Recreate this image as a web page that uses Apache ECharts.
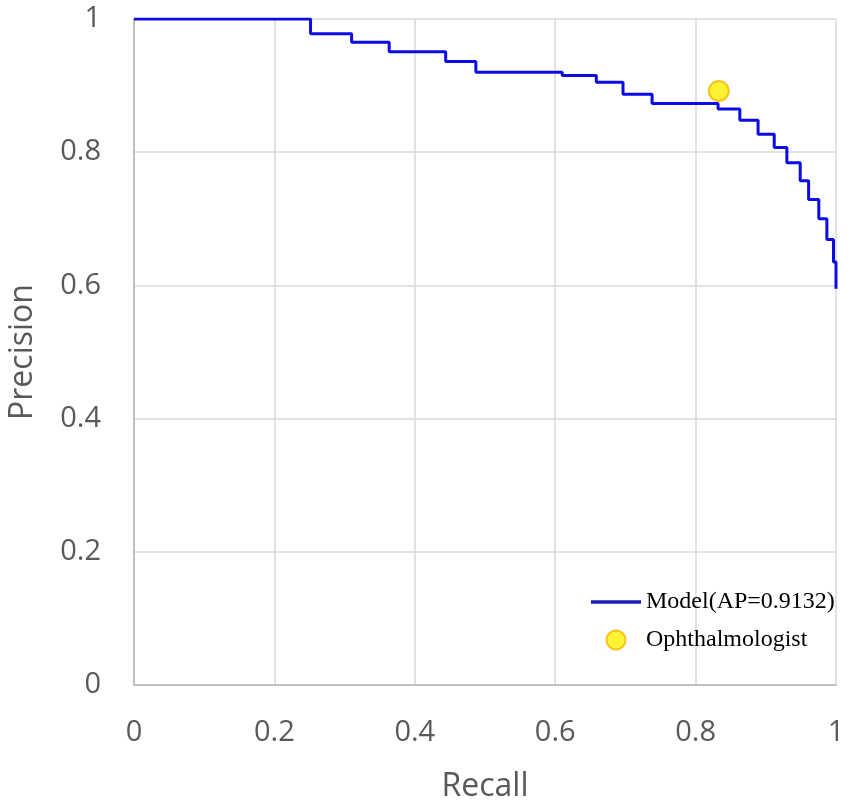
<!DOCTYPE html>
<html>
<head>
<meta charset="utf-8">
<script src="https://cdn.jsdelivr.net/npm/echarts@6/dist/echarts.min.js"></script>
<style>
  html, body { margin: 0; padding: 0; background: #fff; }
  #chart { width: 851px; height: 809px; }
</style>
</head>
<body>
<div id="chart"></div>
<script>
// PR curve (step drops at each recall value)
let recall = [0, 0.2515, 0.31, 0.3635, 0.444, 0.487, 0.61, 0.6586, 0.6966, 0.738, 0.832, 0.863, 0.889, 0.912, 0.930, 0.949, 0.961, 0.9755, 0.987, 0.9964, 1.0];
let precision = [1, 0.978, 0.965, 0.951, 0.936, 0.920, 0.915, 0.905, 0.887, 0.873, 0.865, 0.848, 0.827, 0.807, 0.784, 0.757, 0.729, 0.700, 0.669, 0.635, 0.595];
// the single doctor point
let doctorRecall = [0.833];
let doctorPrecision = [0.892];

let chart = echarts.init(document.getElementById('chart'));

let labelStyle = {
    color: '#595959',
    fontFamily: 'Open Sans',
    fontSize: 29
};

chart.setOption({
    animation: false,
    grid: {
        left: 134,
        right: 15,
        top: 19,
        bottom: 124,
        outerBoundsMode: 'none'
    },
    legend: {
        orient: 'vertical',
        left: 591,
        top: 590,
        padding: 0,
        itemWidth: 50,
        itemHeight: 19,
        itemGap: 14,
        textStyle: {
            color: '#000',
            fontFamily: 'Liberation Serif',
            fontSize: 24
        },
        data: [
            {
                name: 'Model(AP=0.9132)',
                icon: 'path://M0,0L50,0L50,3.5L0,3.5Z',
                itemStyle: { color: '#1c1cb8' }
            },
            { name: 'Ophthalmologist' }
        ]
    },
    xAxis: {
        type: 'value',
        min: 0,
        max: 1,
        interval: 0.2,
        name: 'Recall',
        nameLocation: 'middle',
        nameGap: 86,
        nameTextStyle: { color: '#595959', fontFamily: 'Open Sans', fontSize: 32 },
        axisLine: { lineStyle: { color: '#bfbfbf', width: 2 } },
        axisTick: { show: false },
        axisLabel: Object.assign({ margin: 33 }, labelStyle),
        splitLine: { show: true, lineStyle: { color: '#d9d9d9', width: 1.5 } }
    },
    yAxis: {
        type: 'value',
        min: 0,
        max: 1,
        interval: 0.2,
        name: 'Precision',
        nameLocation: 'middle',
        nameGap: 95,
        nameTextStyle: { color: '#595959', fontFamily: 'Open Sans', fontSize: 32 },
        axisLine: { show: true, lineStyle: { color: '#bfbfbf', width: 2 } },
        axisTick: { show: false },
        axisLabel: Object.assign({ margin: 33 }, labelStyle),
        splitLine: { show: true, lineStyle: { color: '#d9d9d9', width: 1.5 } }
    },
    series: [
        {
            name: 'Model(AP=0.9132)',
            type: 'line',
            step: 'end',
            symbol: 'none',
            color: '#0b0be6',
            lineStyle: { color: '#0b0be6', width: 3 },
            data: recall.map((r, i) => [r, precision[i]]),
            z: 2
        },
        {
            name: 'Ophthalmologist',
            type: 'scatter',
            symbol: 'circle',
            symbolSize: 20,
            itemStyle: { color: '#ffee00', borderColor: '#f2b600', borderWidth: 2 },
            data: doctorRecall.map((r, i) => [r, doctorPrecision[i]]),
            z: 3
        }
    ]
});
</script>
</body>
</html>
